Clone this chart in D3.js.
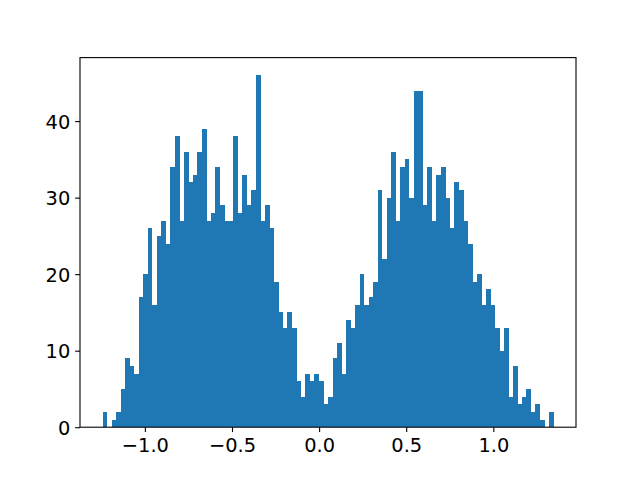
<!DOCTYPE html>
<html>
<head>
<meta charset="utf-8">
<script src="https://cdn.jsdelivr.net/npm/d3@7"></script>
<style>
  html, body { margin: 0; padding: 0; background: #ffffff; }
  svg { display: block; }
</style>
</head>
<body>
<svg id="chart" width="640" height="480"></svg>
<script>
// ---- data ----
const binMin = -1.243;
const binMax = 1.345;
const counts = [
  2, 0, 1, 2, 5, 9, 8, 7, 17, 20, 26, 16, 25, 27, 24, 34,
  38, 27, 36, 32, 33, 36, 39, 27, 28, 34, 29, 27, 27, 38, 28, 33, 29,
  31, 46, 27, 29, 26, 19, 15, 13, 15, 13, 6, 4, 7, 6, 7, 6, 3,
  4, 9, 11, 7, 14, 13, 16, 20, 16, 17, 19, 31, 22, 30, 36, 27,
  34, 35, 30, 44, 44, 29, 34, 27, 33, 34, 30, 26, 32, 31, 27, 24, 19,
  20, 16, 18, 16, 13, 10, 13, 4, 8, 3, 4, 5, 2, 3, 1, 0, 2
];
const xTicks = [-1.0, -0.5, 0.0, 0.5, 1.0];
const xTickLabels = ["\u22121.0", "\u22120.5", "0.0", "0.5", "1.0"];
const yTicks = [0, 10, 20, 30, 40];
const yTickLabels = ["0", "10", "20", "30", "40"];

// ---- layout ----
const plotLeft = 80, plotRight = 576, plotTop = 57.6, plotBottom = 427.2;
const barColor = "#1f77b4";
const fontFamily = "DejaVu Sans, sans-serif";
const fontSize = 19.4;

const nBins = counts.length;
const binW = (binMax - binMin) / nBins;
const bins = counts.map((c, i) => ({ x0: binMin + i * binW, x1: binMin + (i + 1) * binW, count: c }));

const span = binMax - binMin;
const x = d3.scaleLinear()
  .domain([binMin - 0.05 * span, binMax + 0.05 * span])
  .range([plotLeft, plotRight]);
const yMax = d3.max(counts) * 1.05;
const y = d3.scaleLinear().domain([0, yMax]).range([plotBottom, plotTop]);

const svg = d3.select("#chart");

svg.append("g")
  .selectAll("rect")
  .data(bins.filter(d => d.count > 0))
  .join("rect")
  .attr("x", d => x(d.x0))
  .attr("width", d => x(d.x1) - x(d.x0) + 0.3)
  .attr("y", d => y(d.count))
  .attr("height", d => y(0) - y(d.count))
  .attr("fill", barColor)
  .attr("shape-rendering", "crispEdges");

// spines
svg.append("rect")
  .attr("x", plotLeft).attr("y", plotTop)
  .attr("width", plotRight - plotLeft).attr("height", plotBottom - plotTop)
  .attr("fill", "none").attr("stroke", "#000").attr("stroke-width", 1.1);

const tickLen = 4.86, tickPad = 4.86;

const xAxis = d3.axisBottom(x)
  .tickValues(xTicks)
  .tickFormat((d, i) => xTickLabels[i])
  .tickSize(tickLen)
  .tickPadding(tickPad);
const gx = svg.append("g").attr("transform", `translate(0,${plotBottom})`).call(xAxis);
gx.select(".domain").remove();
gx.selectAll("line").attr("stroke", "#000").attr("stroke-width", 1.1);
gx.selectAll("text")
  .attr("font-family", fontFamily).attr("font-size", fontSize)
  .attr("fill", "#000").attr("dy", "0.76em");

const yAxis = d3.axisLeft(y)
  .tickValues(yTicks)
  .tickFormat((d, i) => yTickLabels[i])
  .tickSize(tickLen)
  .tickPadding(tickPad);
const gy = svg.append("g").attr("transform", `translate(${plotLeft},0)`).call(yAxis);
gy.select(".domain").remove();
gy.selectAll("line").attr("stroke", "#000").attr("stroke-width", 1.1);
gy.selectAll("text")
  .attr("font-family", fontFamily).attr("font-size", fontSize)
  .attr("fill", "#000").attr("dy", "0.36em");
</script>
</body>
</html>
